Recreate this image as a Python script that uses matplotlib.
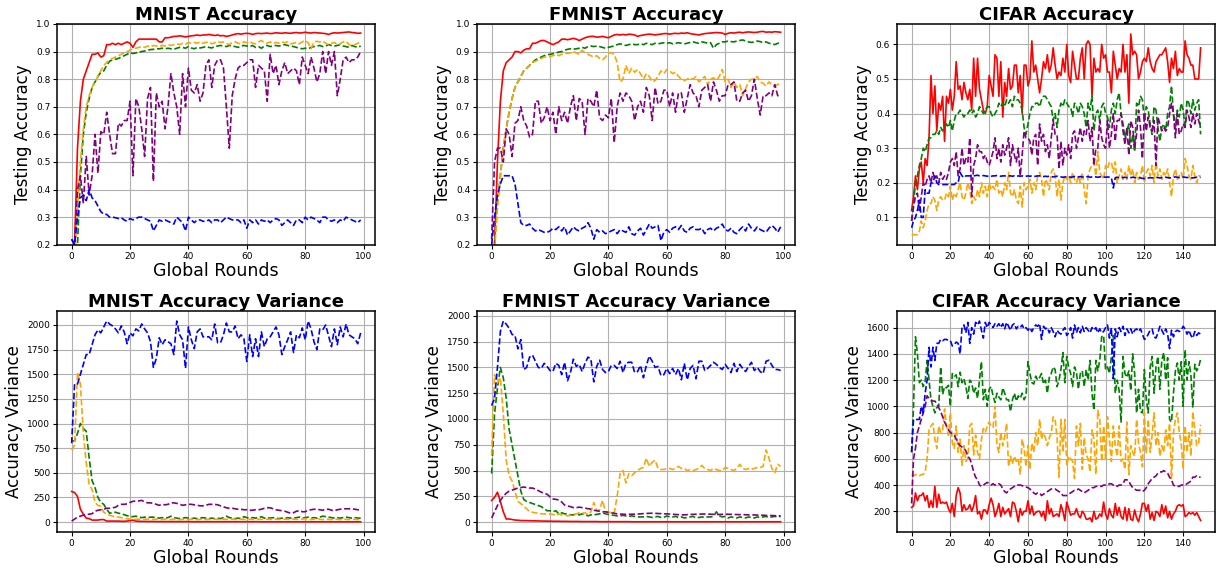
import matplotlib

matplotlib.use('Agg')
import numpy as np
import matplotlib.pyplot as plt
from matplotlib.ticker import MultipleLocator

# ---------------- MNIST accuracy ----------------
mnist_acc_red = [0.17, 0.20, 0.55, 0.72, 0.80, 0.83, 0.86, 0.89, 0.89, 0.895,
                 0.88, 0.885, 0.925, 0.925, 0.930, 0.925, 0.930, 0.925, 0.930, 0.935,
                 0.930, 0.915, 0.935, 0.945, 0.945, 0.945, 0.945, 0.945, 0.945, 0.945,
                 0.935, 0.935, 0.950, 0.950, 0.952, 0.955, 0.955, 0.957, 0.955, 0.953,
                 0.955, 0.957, 0.958, 0.960, 0.958, 0.960, 0.960, 0.962, 0.960, 0.958,
                 0.960, 0.957, 0.958, 0.955, 0.957, 0.960, 0.963, 0.965, 0.963, 0.965,
                 0.966, 0.965, 0.962, 0.965, 0.966, 0.965, 0.966, 0.967, 0.965, 0.966,
                 0.968, 0.967, 0.966, 0.968, 0.967, 0.966, 0.968, 0.969, 0.967, 0.968,
                 0.970, 0.968, 0.967, 0.969, 0.968, 0.967, 0.966, 0.965, 0.962, 0.966,
                 0.968, 0.967, 0.968, 0.969, 0.970, 0.971, 0.969, 0.968, 0.966, 0.967]
mnist_acc_orange = [0.10, 0.15, 0.33, 0.50, 0.62, 0.70, 0.74, 0.77, 0.79, 0.81,
                    0.83, 0.85, 0.86, 0.87, 0.875, 0.88, 0.885, 0.89, 0.895, 0.90,
                    0.905, 0.91, 0.912, 0.915, 0.918, 0.915, 0.920, 0.918, 0.922, 0.920,
                    0.918, 0.922, 0.920, 0.925, 0.922, 0.925, 0.928, 0.925, 0.930, 0.927,
                    0.932, 0.930, 0.933, 0.930, 0.935, 0.930, 0.933, 0.935, 0.928, 0.932,
                    0.936, 0.933, 0.935, 0.930, 0.925, 0.933, 0.935, 0.930, 0.928, 0.935,
                    0.932, 0.937, 0.930, 0.928, 0.935, 0.940, 0.932, 0.930, 0.935, 0.928,
                    0.933, 0.930, 0.935, 0.932, 0.935, 0.928, 0.930, 0.933, 0.928, 0.935,
                    0.940, 0.932, 0.910, 0.935, 0.937, 0.935, 0.938, 0.930, 0.925, 0.930,
                    0.933, 0.925, 0.928, 0.935, 0.938, 0.925, 0.920, 0.925, 0.930, 0.935]
mnist_acc_green = [0.08, 0.12, 0.20, 0.45, 0.60, 0.68, 0.73, 0.77, 0.79, 0.81,
                   0.825, 0.83, 0.85, 0.865, 0.870, 0.872, 0.875, 0.880, 0.885, 0.890,
                   0.895, 0.893, 0.895, 0.898, 0.900, 0.902, 0.905, 0.907, 0.908, 0.910,
                   0.910, 0.912, 0.910, 0.912, 0.910, 0.908, 0.912, 0.915, 0.915, 0.912,
                   0.918, 0.913, 0.910, 0.915, 0.913, 0.915, 0.918, 0.915, 0.913, 0.918,
                   0.920, 0.922, 0.920, 0.918, 0.922, 0.920, 0.918, 0.915, 0.920, 0.922,
                   0.920, 0.918, 0.922, 0.915, 0.918, 0.912, 0.920, 0.922, 0.918, 0.920,
                   0.922, 0.920, 0.923, 0.925, 0.922, 0.920, 0.918, 0.915, 0.912, 0.910,
                   0.912, 0.910, 0.915, 0.918, 0.920, 0.922, 0.918, 0.920, 0.925, 0.922,
                   0.920, 0.922, 0.925, 0.920, 0.918, 0.915, 0.922, 0.918, 0.915, 0.920]
mnist_acc_purple = [0.22, 0.20, 0.40, 0.45, 0.35, 0.52, 0.38, 0.45, 0.60, 0.46,
                    0.61, 0.60, 0.68, 0.60, 0.53, 0.53, 0.64, 0.63, 0.65, 0.65,
                    0.72, 0.45, 0.73, 0.70, 0.62, 0.52, 0.73, 0.77, 0.43, 0.75,
                    0.70, 0.72, 0.62, 0.70, 0.82, 0.75, 0.70, 0.60, 0.82, 0.70,
                    0.84, 0.76, 0.75, 0.78, 0.72, 0.75, 0.85, 0.87, 0.77, 0.85,
                    0.87, 0.87, 0.84, 0.70, 0.55, 0.74, 0.80, 0.84, 0.85, 0.85,
                    0.86, 0.87, 0.87, 0.77, 0.85, 0.84, 0.83, 0.72, 0.89, 0.82,
                    0.85, 0.78, 0.83, 0.86, 0.82, 0.83, 0.84, 0.83, 0.78, 0.88,
                    0.85, 0.82, 0.88, 0.84, 0.79, 0.82, 0.90, 0.82, 0.90, 0.85,
                    0.90, 0.74, 0.80, 0.87, 0.88, 0.86, 0.87, 0.87, 0.88, 0.90]
mnist_acc_blue = [0.22, 0.20, 0.30, 0.37, 0.38, 0.36, 0.40, 0.37, 0.36, 0.34,
                  0.32, 0.31, 0.31, 0.30, 0.30, 0.298, 0.295, 0.298, 0.29, 0.285,
                  0.295, 0.29, 0.295, 0.30, 0.30, 0.295, 0.29, 0.285, 0.25, 0.27,
                  0.29, 0.285, 0.29, 0.285, 0.28, 0.275, 0.30, 0.29, 0.28, 0.25,
                  0.30, 0.29, 0.28, 0.29, 0.29, 0.285, 0.285, 0.29, 0.28, 0.29,
                  0.29, 0.28, 0.29, 0.30, 0.295, 0.29, 0.29, 0.29, 0.28, 0.29,
                  0.26, 0.29, 0.28, 0.29, 0.275, 0.29, 0.285, 0.29, 0.28, 0.29,
                  0.295, 0.29, 0.27, 0.28, 0.29, 0.28, 0.27, 0.29, 0.29, 0.28,
                  0.30, 0.29, 0.30, 0.295, 0.29, 0.28, 0.30, 0.30, 0.29, 0.285,
                  0.29, 0.28, 0.29, 0.285, 0.30, 0.295, 0.29, 0.285, 0.28, 0.29]

# ---------------- FMNIST accuracy ----------------
fmnist_acc_red = [0.15, 0.20, 0.50, 0.72, 0.83, 0.86, 0.87, 0.88, 0.90, 0.90,
                  0.895, 0.905, 0.91, 0.91, 0.93, 0.93, 0.935, 0.94, 0.94, 0.935,
                  0.93, 0.925, 0.93, 0.935, 0.945, 0.945, 0.943, 0.945, 0.948, 0.945,
                  0.940, 0.945, 0.950, 0.953, 0.955, 0.955, 0.952, 0.953, 0.955, 0.952,
                  0.950, 0.955, 0.960, 0.962, 0.960, 0.962, 0.960, 0.963, 0.962, 0.960,
                  0.955, 0.958, 0.960, 0.962, 0.963, 0.962, 0.960, 0.962, 0.963, 0.965,
                  0.965, 0.963, 0.965, 0.966, 0.965, 0.967, 0.966, 0.968, 0.965, 0.963,
                  0.962, 0.960, 0.963, 0.965, 0.966, 0.967, 0.968, 0.969, 0.968, 0.967,
                  0.962, 0.966, 0.968, 0.967, 0.969, 0.970, 0.968, 0.970, 0.971, 0.970,
                  0.969, 0.970, 0.972, 0.973, 0.970, 0.971, 0.970, 0.972, 0.971, 0.970]
fmnist_acc_orange = [0.12, 0.18, 0.33, 0.45, 0.55, 0.62, 0.68, 0.73, 0.77, 0.79,
                     0.81, 0.83, 0.84, 0.85, 0.86, 0.865, 0.87, 0.875, 0.88, 0.88,
                     0.882, 0.885, 0.89, 0.885, 0.89, 0.895, 0.893, 0.895, 0.90, 0.895,
                     0.89, 0.905, 0.895, 0.89, 0.885, 0.88, 0.885, 0.875, 0.87, 0.88,
                     0.895, 0.895, 0.89, 0.86, 0.79, 0.80, 0.85, 0.82, 0.84, 0.825,
                     0.835, 0.82, 0.80, 0.82, 0.81, 0.79, 0.795, 0.81, 0.83, 0.82,
                     0.835, 0.83, 0.82, 0.825, 0.81, 0.80, 0.795, 0.80, 0.805, 0.80,
                     0.81, 0.79, 0.80, 0.81, 0.78, 0.80, 0.805, 0.795, 0.81, 0.835,
                     0.79, 0.80, 0.77, 0.79, 0.77, 0.78, 0.74, 0.765, 0.79, 0.80,
                     0.80, 0.81, 0.79, 0.785, 0.775, 0.79, 0.78, 0.775, 0.78, 0.79]
fmnist_acc_green = [0.12, 0.20, 0.35, 0.45, 0.55, 0.62, 0.68, 0.73, 0.77, 0.79,
                    0.81, 0.83, 0.84, 0.85, 0.86, 0.87, 0.875, 0.88, 0.885, 0.888,
                    0.89, 0.892, 0.895, 0.898, 0.900, 0.905, 0.908, 0.910, 0.908, 0.910,
                    0.912, 0.915, 0.912, 0.918, 0.920, 0.918, 0.920, 0.918, 0.915, 0.912,
                    0.915, 0.918, 0.920, 0.925, 0.928, 0.925, 0.922, 0.925, 0.928, 0.925,
                    0.925, 0.928, 0.925, 0.930, 0.928, 0.925, 0.930, 0.928, 0.930, 0.932,
                    0.930, 0.932, 0.928, 0.930, 0.932, 0.930, 0.928, 0.930, 0.933, 0.935,
                    0.932, 0.930, 0.935, 0.933, 0.930, 0.932, 0.912, 0.925, 0.930, 0.935,
                    0.935, 0.938, 0.936, 0.935, 0.938, 0.940, 0.942, 0.938, 0.935, 0.933,
                    0.935, 0.938, 0.936, 0.932, 0.935, 0.930, 0.928, 0.925, 0.930, 0.930]
fmnist_acc_purple = [0.22, 0.50, 0.55, 0.55, 0.50, 0.62, 0.60, 0.52, 0.64, 0.65,
                     0.70, 0.65, 0.63, 0.59, 0.60, 0.72, 0.72, 0.64, 0.66, 0.70,
                     0.65, 0.68, 0.60, 0.70, 0.65, 0.68, 0.64, 0.70, 0.74, 0.65,
                     0.73, 0.72, 0.60, 0.73, 0.72, 0.70, 0.76, 0.66, 0.65, 0.67,
                     0.66, 0.73, 0.57, 0.70, 0.75, 0.72, 0.75, 0.74, 0.72, 0.65,
                     0.70, 0.72, 0.68, 0.77, 0.74, 0.65, 0.77, 0.71, 0.72, 0.76,
                     0.76, 0.70, 0.75, 0.68, 0.75, 0.75, 0.68, 0.73, 0.78, 0.75,
                     0.74, 0.70, 0.76, 0.77, 0.78, 0.72, 0.79, 0.76, 0.72, 0.74,
                     0.74, 0.78, 0.78, 0.79, 0.72, 0.72, 0.75, 0.76, 0.72, 0.74,
                     0.80, 0.73, 0.67, 0.74, 0.74, 0.75, 0.74, 0.78, 0.74, 0.74]
fmnist_acc_blue = [0.20, 0.30, 0.38, 0.42, 0.45, 0.45, 0.45, 0.45, 0.42, 0.35,
                   0.28, 0.27, 0.27, 0.275, 0.26, 0.25, 0.255, 0.25, 0.245, 0.245,
                   0.25, 0.26, 0.255, 0.265, 0.25, 0.265, 0.235, 0.25, 0.265, 0.255,
                   0.25, 0.26, 0.265, 0.28, 0.26, 0.22, 0.255, 0.245, 0.25, 0.24,
                   0.245, 0.25, 0.255, 0.24, 0.255, 0.25, 0.245, 0.265, 0.24, 0.235,
                   0.25, 0.26, 0.235, 0.255, 0.275, 0.26, 0.265, 0.27, 0.215, 0.245,
                   0.255, 0.245, 0.26, 0.265, 0.255, 0.27, 0.25, 0.245, 0.26, 0.265,
                   0.255, 0.255, 0.26, 0.24, 0.255, 0.26, 0.25, 0.26, 0.265, 0.275,
                   0.255, 0.25, 0.26, 0.245, 0.24, 0.255, 0.265, 0.25, 0.275, 0.26,
                   0.25, 0.265, 0.255, 0.25, 0.245, 0.26, 0.27, 0.26, 0.245, 0.265]

# ---------------- CIFAR accuracy ----------------
cifar_acc_red = [0.12, 0.16, 0.22, 0.18, 0.24, 0.26, 0.20, 0.27, 0.25, 0.33,
                 0.51, 0.40, 0.48, 0.35, 0.43, 0.41, 0.45, 0.32, 0.45, 0.43,
                 0.47, 0.41, 0.45, 0.55, 0.47, 0.48, 0.44, 0.49, 0.46, 0.44,
                 0.47, 0.41, 0.56, 0.45, 0.56, 0.47, 0.44, 0.41, 0.40, 0.42,
                 0.51, 0.48, 0.45, 0.57, 0.56, 0.45, 0.55, 0.39, 0.49, 0.45,
                 0.53, 0.47, 0.48, 0.54, 0.54, 0.46, 0.51, 0.40, 0.54, 0.54,
                 0.48, 0.50, 0.61, 0.52, 0.54, 0.50, 0.46, 0.50, 0.55, 0.53,
                 0.57, 0.52, 0.54, 0.59, 0.54, 0.50, 0.52, 0.51, 0.56, 0.52,
                 0.60, 0.51, 0.49, 0.58, 0.54, 0.50, 0.50, 0.56, 0.59, 0.50,
                 0.60, 0.61, 0.60, 0.45, 0.56, 0.52, 0.53, 0.52, 0.60, 0.56,
                 0.57, 0.52, 0.52, 0.46, 0.58, 0.54, 0.50, 0.53, 0.52, 0.60,
                 0.52, 0.57, 0.43, 0.63, 0.57, 0.58, 0.57, 0.50, 0.52, 0.55,
                 0.56, 0.55, 0.59, 0.55, 0.53, 0.52, 0.55, 0.56, 0.57, 0.57,
                 0.58, 0.59, 0.55, 0.49, 0.56, 0.53, 0.58, 0.51, 0.53, 0.52,
                 0.52, 0.61, 0.57, 0.56, 0.54, 0.54, 0.50, 0.50, 0.50, 0.59]
cifar_acc_orange = [0.05, 0.05, 0.05, 0.05, 0.06, 0.09, 0.07, 0.09, 0.12, 0.14,
                    0.14, 0.16, 0.15, 0.12, 0.15, 0.16, 0.15, 0.15, 0.17, 0.16,
                    0.19, 0.15, 0.17, 0.16, 0.18, 0.20, 0.16, 0.15, 0.17, 0.20,
                    0.18, 0.14, 0.16, 0.15, 0.18, 0.16, 0.20, 0.17, 0.19, 0.16,
                    0.20, 0.18, 0.19, 0.18, 0.21, 0.17, 0.18, 0.16, 0.20, 0.18,
                    0.23, 0.17, 0.16, 0.18, 0.15, 0.14, 0.19, 0.13, 0.20, 0.18,
                    0.19, 0.21, 0.17, 0.20, 0.18, 0.22, 0.23, 0.21, 0.16, 0.21,
                    0.20, 0.18, 0.23, 0.24, 0.22, 0.16, 0.21, 0.15, 0.20, 0.22,
                    0.21, 0.22, 0.20, 0.23, 0.21, 0.20, 0.22, 0.20, 0.23, 0.18,
                    0.14, 0.22, 0.24, 0.25, 0.26, 0.22, 0.29, 0.23, 0.22, 0.21,
                    0.25, 0.24, 0.26, 0.26, 0.23, 0.26, 0.20, 0.22, 0.24, 0.21,
                    0.23, 0.21, 0.25, 0.22, 0.24, 0.20, 0.23, 0.21, 0.22, 0.25,
                    0.20, 0.23, 0.24, 0.22, 0.25, 0.20, 0.26, 0.22, 0.24, 0.21,
                    0.23, 0.22, 0.24, 0.20, 0.16, 0.22, 0.24, 0.21, 0.22, 0.23,
                    0.21, 0.27, 0.25, 0.22, 0.21, 0.25, 0.22, 0.20, 0.22, 0.22]
cifar_acc_green = [0.09, 0.14, 0.20, 0.22, 0.25, 0.27, 0.30, 0.29, 0.31, 0.33,
                   0.33, 0.34, 0.34, 0.35, 0.34, 0.36, 0.35, 0.36, 0.37, 0.36,
                   0.38, 0.35, 0.38, 0.40, 0.40, 0.41, 0.40, 0.39, 0.40, 0.40,
                   0.41, 0.40, 0.41, 0.39, 0.40, 0.42, 0.41, 0.40, 0.41, 0.42,
                   0.42, 0.40, 0.39, 0.40, 0.41, 0.43, 0.42, 0.43, 0.42, 0.44,
                   0.43, 0.44, 0.42, 0.45, 0.44, 0.44, 0.43, 0.41, 0.36, 0.34,
                   0.37, 0.40, 0.42, 0.42, 0.43, 0.43, 0.42, 0.44, 0.45, 0.45,
                   0.44, 0.43, 0.42, 0.38, 0.40, 0.36, 0.41, 0.43, 0.42, 0.44,
                   0.43, 0.42, 0.42, 0.39, 0.43, 0.42, 0.40, 0.43, 0.42, 0.40,
                   0.36, 0.43, 0.41, 0.45, 0.35, 0.40, 0.41, 0.38, 0.42, 0.43,
                   0.40, 0.39, 0.36, 0.41, 0.43, 0.40, 0.44, 0.46, 0.40, 0.37,
                   0.33, 0.35, 0.37, 0.30, 0.34, 0.29, 0.43, 0.42, 0.45, 0.44,
                   0.38, 0.42, 0.41, 0.37, 0.34, 0.42, 0.41, 0.36, 0.32, 0.36,
                   0.37, 0.35, 0.40, 0.42, 0.48, 0.40, 0.36, 0.41, 0.39, 0.43,
                   0.41, 0.36, 0.44, 0.43, 0.40, 0.44, 0.41, 0.43, 0.44, 0.34]
cifar_acc_purple = [0.09, 0.13, 0.16, 0.17, 0.12, 0.16, 0.20, 0.19, 0.21, 0.22,
                    0.20, 0.23, 0.21, 0.22, 0.20, 0.23, 0.21, 0.22, 0.21, 0.23,
                    0.26, 0.27, 0.25, 0.29, 0.22, 0.24, 0.30, 0.25, 0.27, 0.26,
                    0.33, 0.16, 0.25, 0.27, 0.31, 0.29, 0.29, 0.27, 0.28, 0.26,
                    0.25, 0.27, 0.29, 0.33, 0.27, 0.30, 0.26, 0.31, 0.28, 0.30,
                    0.33, 0.25, 0.31, 0.28, 0.26, 0.30, 0.22, 0.28, 0.35, 0.33,
                    0.33, 0.32, 0.28, 0.33, 0.34, 0.25, 0.37, 0.32, 0.34, 0.29,
                    0.31, 0.27, 0.33, 0.38, 0.34, 0.34, 0.24, 0.32, 0.25, 0.30,
                    0.28, 0.31, 0.27, 0.34, 0.35, 0.30, 0.33, 0.36, 0.32, 0.35,
                    0.34, 0.38, 0.32, 0.36, 0.25, 0.30, 0.30, 0.38, 0.33, 0.31,
                    0.30, 0.38, 0.30, 0.34, 0.40, 0.32, 0.38, 0.38, 0.40, 0.35,
                    0.31, 0.36, 0.28, 0.38, 0.36, 0.30, 0.34, 0.41, 0.36, 0.27,
                    0.40, 0.35, 0.39, 0.36, 0.35, 0.38, 0.25, 0.39, 0.37, 0.35,
                    0.36, 0.35, 0.36, 0.40, 0.43, 0.40, 0.33, 0.40, 0.34, 0.35,
                    0.37, 0.36, 0.41, 0.39, 0.36, 0.40, 0.37, 0.40, 0.38, 0.36]
cifar_acc_blue = [0.07, 0.09, 0.10, 0.12, 0.15, 0.10, 0.10, 0.18, 0.17, 0.17,
                  0.20, 0.20, 0.22, 0.20, 0.195, 0.195, 0.195, 0.195, 0.195, 0.195,
                  0.195, 0.195, 0.195, 0.20, 0.20, 0.23, 0.22, 0.215, 0.22, 0.22,
                  0.22, 0.22, 0.22, 0.221, 0.222, 0.22, 0.22, 0.221, 0.22, 0.219,
                  0.22, 0.219, 0.22, 0.22, 0.221, 0.22, 0.219, 0.22, 0.22, 0.219,
                  0.22, 0.22, 0.219, 0.22, 0.218, 0.22, 0.219, 0.22, 0.218, 0.219,
                  0.22, 0.219, 0.22, 0.218, 0.219, 0.22, 0.22, 0.219, 0.218, 0.219,
                  0.218, 0.219, 0.218, 0.217, 0.218, 0.219, 0.218, 0.217, 0.216, 0.217,
                  0.217, 0.218, 0.216, 0.217, 0.218, 0.216, 0.217, 0.218, 0.217, 0.216,
                  0.217, 0.218, 0.216, 0.217, 0.218, 0.217, 0.216, 0.217, 0.218, 0.217,
                  0.216, 0.217, 0.216, 0.215, 0.185, 0.215, 0.216, 0.215, 0.216, 0.215,
                  0.216, 0.215, 0.214, 0.215, 0.216, 0.215, 0.214, 0.215, 0.214, 0.213,
                  0.212, 0.213, 0.214, 0.215, 0.214, 0.215, 0.216, 0.215, 0.214, 0.215,
                  0.215, 0.216, 0.215, 0.214, 0.215, 0.216, 0.217, 0.216, 0.215, 0.216,
                  0.217, 0.216, 0.215, 0.216, 0.215, 0.214, 0.215, 0.216, 0.215, 0.216]

# ---------------- MNIST variance ----------------
mnist_var_red = [310, 300, 260, 130, 80, 40, 35, 20, 20, 20,
                 25, 25, 10, 10, 10, 10, 10, 8, 8, 10,
                 15, 20, 10, 8, 7, 7, 6, 6, 6, 5,
                 5, 5, 5, 5, 5, 5, 5, 5, 5, 5,
                 5, 4, 4, 4, 4, 4, 4, 4, 4, 4,
                 4, 4, 4, 4, 4, 4, 4, 4, 4, 4,
                 4, 4, 4, 4, 4, 3, 3, 3, 3, 3,
                 3, 3, 3, 3, 3, 3, 3, 3, 3, 3,
                 3, 3, 3, 3, 3, 3, 3, 3, 3, 3,
                 3, 3, 3, 3, 3, 3, 3, 3, 3, 3]
mnist_var_orange = [730, 780, 1520, 1400, 900, 600, 380, 330, 200, 170,
                    160, 100, 80, 70, 60, 55, 50, 45, 40, 35,
                    30, 30, 28, 30, 25, 28, 30, 25, 28, 30,
                    28, 25, 30, 28, 25, 30, 28, 25, 28, 30,
                    25, 28, 30, 25, 28, 30, 25, 28, 25, 30,
                    28, 25, 30, 28, 25, 30, 28, 25, 30, 28,
                    25, 30, 28, 25, 30, 28, 25, 30, 28, 25,
                    30, 28, 25, 30, 28, 25, 30, 28, 25, 30,
                    35, 28, 25, 30, 40, 28, 25, 30, 28, 25,
                    30, 28, 25, 30, 28, 25, 30, 28, 25, 28]
mnist_var_green = [830, 820, 900, 1000, 950, 920, 650, 420, 350, 250,
                   200, 180, 130, 90, 95, 100, 90, 85, 75, 65,
                   55, 55, 60, 50, 45, 50, 45, 50, 50, 45,
                   40, 45, 40, 45, 60, 45, 40, 35, 40, 45,
                   40, 35, 40, 35, 40, 45, 40, 35, 40, 35,
                   40, 35, 45, 60, 45, 40, 35, 40, 35, 55,
                   45, 40, 45, 40, 45, 55, 40, 45, 40, 45,
                   40, 35, 40, 35, 45, 40, 40, 45, 50, 40,
                   45, 50, 40, 45, 40, 50, 60, 55, 50, 45,
                   40, 45, 40, 45, 50, 45, 40, 45, 40, 40]
mnist_var_purple = [10, 30, 50, 60, 70, 75, 80, 85, 110, 120,
                    125, 130, 140, 140, 145, 150, 170, 180, 180, 185,
                    200, 210, 215, 215, 220, 205, 195, 195, 190, 180,
                    170, 180, 175, 180, 195, 195, 190, 180, 170, 175,
                    180, 180, 175, 170, 165, 165, 170, 180, 180, 180,
                    175, 165, 155, 145, 140, 140, 135, 130, 130, 125,
                    125, 120, 120, 125, 125, 130, 140, 145, 145, 135,
                    125, 120, 115, 110, 100, 90, 95, 110, 115, 105,
                    105, 120, 125, 130, 130, 125, 120, 130, 130, 120,
                    115, 125, 130, 135, 135, 135, 135, 130, 125, 125]
mnist_var_blue = [800, 1400, 1400, 1500, 1600, 1700, 1700, 1800, 1900, 1950,
                  1920, 1980, 2040, 2010, 1990, 1960, 1920, 1990, 1930, 1810,
                  1920, 1890, 1960, 1940, 2010, 1960, 1920, 1830, 1570, 1660,
                  1870, 1800, 1850, 1830, 1810, 1700, 2040, 1900, 1850, 1560,
                  1980, 1850, 1760, 1930, 1960, 1880, 1880, 1880, 1850, 2010,
                  1820, 1820, 1900, 2020, 1930, 1930, 1990, 1860, 1900, 1860,
                  1630, 1900, 1680, 1860, 1680, 1930, 1780, 1860, 1880, 1930,
                  1980, 1900, 1700, 1780, 1850, 1930, 1720, 1900, 1870, 1970,
                  1850, 2040, 1960, 1830, 1750, 1960, 1950, 2000, 1890, 1780,
                  1960, 1800, 1980, 1880, 2010, 1900, 1880, 1860, 1810, 1920]

# ---------------- FMNIST variance ----------------
fmnist_var_red = [210, 240, 290, 200, 100, 30, 30, 25, 20, 18,
                  15, 15, 14, 13, 12, 12, 11, 10, 10, 9,
                  9, 8, 8, 8, 7, 7, 7, 6, 6, 6,
                  6, 5, 5, 5, 5, 5, 5, 4, 4, 4,
                  4, 4, 4, 4, 4, 4, 4, 4, 3, 3,
                  3, 3, 3, 3, 3, 3, 3, 3, 3, 3,
                  3, 3, 3, 3, 3, 3, 3, 3, 3, 3,
                  3, 3, 3, 3, 3, 3, 3, 3, 3, 3,
                  3, 3, 3, 3, 3, 3, 3, 3, 3, 3,
                  3, 3, 3, 3, 3, 3, 3, 3, 3, 3]
fmnist_var_orange = [650, 1430, 1350, 1400, 1050, 600, 450, 400, 300, 200,
                     180, 150, 130, 100, 95, 90, 85, 80, 80, 75,
                     80, 75, 60, 80, 70, 70, 60, 65, 70, 80,
                     90, 85, 90, 70, 100, 190, 110, 120, 210, 100,
                     90, 100, 90, 250, 470, 500, 380, 470, 450, 480,
                     500, 520, 530, 620, 540, 580, 600, 520, 510, 510,
                     520, 520, 510, 520, 540, 520, 520, 500, 510, 500,
                     510, 520, 550, 520, 510, 500, 520, 510, 500, 500,
                     530, 520, 510, 500, 520, 560, 520, 510, 520, 510,
                     520, 530, 530, 540, 700, 620, 520, 480, 560, 540]
fmnist_var_green = [470, 1050, 1300, 1500, 1400, 1200, 900, 750, 600, 450,
                    300, 220, 200, 190, 180, 170, 160, 150, 130, 110,
                    110, 100, 110, 80, 90, 80, 80, 70, 70, 80,
                    70, 80, 75, 60, 70, 70, 75, 80, 90, 80,
                    75, 70, 65, 60, 60, 65, 60, 55, 60, 55,
                    50, 50, 50, 55, 50, 45, 50, 55, 45, 45,
                    60, 50, 50, 55, 45, 50, 40, 45, 50, 55,
                    40, 45, 50, 45, 50, 50, 55, 100, 60, 50,
                    55, 40, 50, 45, 40, 50, 45, 40, 50, 45,
                    40, 50, 45, 50, 55, 45, 50, 55, 50, 55]
fmnist_var_purple = [40, 100, 160, 210, 250, 280, 300, 310, 320, 330,
                     335, 340, 335, 330, 330, 320, 305, 290, 280, 270,
                     245, 225, 220, 215, 195, 165, 155, 150, 140, 140,
                     145, 140, 135, 130, 125, 115, 110, 105, 100, 100,
                     95, 90, 85, 80, 78, 76, 75, 75, 76, 77,
                     78, 80, 82, 84, 85, 86, 85, 83, 82, 80,
                     80, 78, 76, 74, 72, 70, 70, 72, 74, 75,
                     76, 77, 78, 78, 77, 76, 75, 74, 74, 75,
                     76, 76, 75, 74, 73, 72, 72, 71, 70, 70,
                     69, 68, 67, 66, 65, 64, 63, 62, 61, 60]
fmnist_var_blue = [1130, 1200, 1500, 1850, 1950, 1920, 1880, 1820, 1810, 1680,
                   1770, 1480, 1500, 1600, 1620, 1560, 1500, 1490, 1540, 1510,
                   1470, 1460, 1540, 1520, 1430, 1550, 1370, 1450, 1580, 1510,
                   1530, 1460, 1540, 1600, 1580, 1360, 1510, 1570, 1480, 1450,
                   1460, 1520, 1520, 1490, 1560, 1450, 1540, 1550, 1550, 1450,
                   1460, 1520, 1400, 1520, 1610, 1560, 1500, 1510, 1420, 1430,
                   1490, 1440, 1490, 1430, 1490, 1380, 1540, 1380, 1490, 1520,
                   1390, 1560, 1560, 1470, 1490, 1520, 1550, 1530, 1500, 1480,
                   1530, 1490, 1450, 1540, 1460, 1530, 1490, 1460, 1510, 1550,
                   1470, 1500, 1460, 1440, 1560, 1570, 1520, 1480, 1480, 1470]

# ---------------- CIFAR variance ----------------
cifar_var_red = [230, 240, 340, 280, 320, 320, 340, 280, 320, 230,
                 280, 230, 390, 230, 330, 260, 270, 260, 270, 220,
                 190, 260, 160, 320, 380, 340, 200, 250, 210, 220,
                 250, 200, 240, 320, 180, 200, 140, 210, 210, 180,
                 250, 300, 250, 160, 200, 260, 160, 230, 180, 200,
                 220, 160, 270, 260, 200, 120, 220, 170, 200, 200,
                 280, 180, 240, 170, 190, 200, 200, 160, 200, 130,
                 280, 180, 220, 160, 170, 180, 160, 250, 200, 130,
                 270, 220, 170, 180, 180, 220, 170, 150, 200, 180,
                 140, 140, 150, 120, 200, 140, 150, 180, 160, 270,
                 180, 140, 220, 170, 150, 260, 170, 230, 160, 140,
                 230, 130, 220, 140, 130, 210, 150, 120, 180, 260,
                 260, 200, 250, 140, 190, 130, 200, 190, 160, 250,
                 180, 240, 150, 200, 140, 180, 200, 240, 250, 240,
                 250, 160, 170, 190, 180, 190, 170, 190, 160, 130]
cifar_var_orange = [480, 470, 480, 470, 470, 480, 480, 500, 600, 820,
                    850, 870, 750, 680, 850, 800, 820, 980, 850, 780,
                    950, 720, 680, 850, 650, 750, 550, 700, 580, 600,
                    850, 870, 630, 780, 650, 600, 750, 830, 800, 850,
                    880, 850, 840, 1000, 700, 650, 800, 700, 770, 870,
                    540, 620, 560, 620, 580, 600, 480, 750, 680, 540,
                    700, 520, 720, 650, 800, 700, 900, 750, 800, 760,
                    700, 760, 800, 920, 900, 760, 460, 900, 650, 900,
                    550, 620, 600, 580, 450, 850, 700, 870, 520, 760,
                    630, 600, 500, 820, 750, 480, 970, 900, 580, 850,
                    600, 920, 750, 580, 850, 700, 620, 850, 580, 600,
                    520, 880, 480, 700, 650, 620, 900, 720, 650, 540,
                    950, 640, 900, 650, 780, 950, 700, 800, 620, 700,
                    650, 820, 700, 870, 450, 800, 900, 950, 800, 720,
                    520, 850, 650, 800, 620, 960, 820, 700, 720, 860]
cifar_var_green = [650, 1000, 1530, 1400, 1180, 1200, 1150, 1190, 1350, 1200,
                   1050, 1000, 950, 990, 1000, 1300, 1090, 1150, 1140, 1160,
                   1000, 1250, 1230, 1240, 1150, 1260, 1180, 1210, 1150, 1060,
                   1200, 1180, 1100, 1140, 1060, 1200, 1340, 1050, 1130, 1000,
                   1130, 1150, 1080, 1030, 1100, 1070, 1050, 1140, 1100, 1050,
                   1050, 960, 1050, 1100, 1040, 1080, 1060, 1100, 1050, 1080,
                   1340, 1250, 1180, 1170, 1230, 1200, 1220, 1250, 1170, 1200,
                   1100, 1220, 1250, 1300, 1280, 1150, 1200, 1280, 1410, 1180,
                   1380, 1300, 1250, 1150, 1300, 1260, 1130, 1250, 1270, 1150,
                   1280, 1200, 1350, 1100, 970, 1350, 1270, 1350, 1530, 1540,
                   1280, 1300, 1250, 1380, 1540, 1100, 1200, 1120, 880, 1380,
                   1250, 1220, 1270, 1120, 1400, 1250, 950, 1130, 960, 950,
                   1280, 1050, 950, 1300, 1380, 1100, 1300, 1380, 1130, 1350,
                   1410, 1200, 1370, 900, 880, 1100, 1270, 1330, 1200, 1340,
                   1000, 1430, 1200, 1340, 1240, 990, 1320, 1270, 1300, 1360]
cifar_var_purple = [260, 600, 680, 800, 850, 900, 950, 1000, 1080, 1060,
                    1050, 1040, 1040, 1020, 990, 960, 920, 880, 850, 820,
                    800, 790, 780, 750, 720, 700, 690, 680, 660, 620,
                    600, 560, 500, 460, 440, 400, 390, 400, 410, 420,
                    410, 400, 410, 400, 400, 410, 400, 370, 350, 340,
                    360, 370, 380, 390, 400, 400, 400, 395, 390, 385,
                    380, 370, 355, 340, 330, 340, 340, 320, 330, 340,
                    350, 360, 370, 370, 370, 360, 350, 340, 320, 320,
                    320, 330, 340, 350, 360, 360, 370, 360, 350, 340,
                    350, 360, 370, 380, 380, 390, 390, 390, 390, 400,
                    400, 400, 410, 410, 400, 400, 390, 400, 400, 410,
                    440, 440, 430, 400, 380, 370, 360, 360, 360, 350,
                    360, 380, 410, 430, 450, 460, 470, 490, 500, 500,
                    510, 500, 490, 460, 440, 400, 390, 390, 390, 400,
                    400, 400, 410, 420, 430, 460, 460, 470, 460, 460]
cifar_var_blue = [650, 900, 900, 900, 900, 1000, 950, 1100, 1200, 1450,
                  1300, 1450, 1350, 1480, 1480, 1510, 1500, 1510, 1510, 1500,
                  1500, 1460, 1470, 1490, 1480, 1400, 1600, 1620, 1560, 1640,
                  1480, 1600, 1550, 1640, 1620, 1650, 1580, 1520, 1640, 1600,
                  1640, 1620, 1600, 1630, 1610, 1630, 1600, 1630, 1590, 1640,
                  1610, 1580, 1620, 1630, 1590, 1610, 1600, 1620, 1590, 1600,
                  1580, 1600, 1570, 1600, 1620, 1610, 1630, 1510, 1610, 1590,
                  1600, 1560, 1600, 1570, 1530, 1580, 1560, 1550, 1580, 1600,
                  1540, 1560, 1600, 1520, 1620, 1560, 1600, 1560, 1610, 1570,
                  1600, 1580, 1560, 1600, 1580, 1600, 1560, 1590, 1560, 1570,
                  1600, 1620, 1520, 1600, 1210, 1590, 1530, 1600, 1570, 1610,
                  1540, 1590, 1560, 1590, 1550, 1580, 1590, 1570, 1590, 1550,
                  1510, 1520, 1550, 1580, 1590, 1530, 1520, 1560, 1610, 1580,
                  1550, 1590, 1550, 1440, 1580, 1530, 1570, 1580, 1570, 1580,
                  1610, 1590, 1550, 1580, 1540, 1520, 1570, 1540, 1560, 1550]

COLORS = ['red', 'green', 'orange', 'purple', 'blue']
STYLES = ['-', '--', '--', '--', '--']

panels = [
    ('MNIST Accuracy', 'Testing Accuracy',
     [mnist_acc_red, mnist_acc_green, mnist_acc_orange, mnist_acc_purple, mnist_acc_blue]),
    ('FMNIST Accuracy', 'Testing Accuracy',
     [fmnist_acc_red, fmnist_acc_green, fmnist_acc_orange, fmnist_acc_purple, fmnist_acc_blue]),
    ('CIFAR Accuracy', 'Testing Accuracy',
     [cifar_acc_red, cifar_acc_green, cifar_acc_orange, cifar_acc_purple, cifar_acc_blue]),
    ('MNIST Accuracy Variance', 'Accuracy Variance',
     [mnist_var_red, mnist_var_green, mnist_var_orange, mnist_var_purple, mnist_var_blue]),
    ('FMNIST Accuracy Variance', 'Accuracy Variance',
     [fmnist_var_red, fmnist_var_green, fmnist_var_orange, fmnist_var_purple, fmnist_var_blue]),
    ('CIFAR Accuracy Variance', 'Accuracy Variance',
     [cifar_var_red, cifar_var_green, cifar_var_orange, cifar_var_purple, cifar_var_blue]),
]

fig, axes = plt.subplots(2, 3, figsize=(12.17, 5.70), dpi=100)
fig.subplots_adjust(left=0.047, right=0.9984, top=0.958, bottom=0.067,
                    wspace=0.321, hspace=0.30)

for ax, (title, ylabel, series) in zip(axes.flat, panels):
    for ind, ys in enumerate(series):
        ax.plot(np.arange(len(ys)), ys, STYLES[ind], color=COLORS[ind], linewidth=1.2)
    ax.set_title(title, fontsize=13, fontweight='bold', pad=3)
    ax.set_xlabel('Global Rounds', fontsize=12.5, labelpad=1)
    ax.set_ylabel(ylabel, fontsize=12, labelpad=3)
    ax.tick_params(labelsize=6.5, length=3, pad=2)
    ax.grid(True, color='#b0b0b0', linewidth=0.8)
    ax.xaxis.set_major_locator(MultipleLocator(20))
    for sp in ax.spines.values():
        sp.set_linewidth(1.1)

for ax in axes[0, :2]:
    ax.set_ylim(0.2, 1.0)
    ax.yaxis.set_major_locator(MultipleLocator(0.1))
axes[0, 2].yaxis.set_major_locator(MultipleLocator(0.1))
for ax in axes[1, :2]:
    ax.yaxis.set_major_locator(MultipleLocator(250))
axes[1, 2].yaxis.set_major_locator(MultipleLocator(200))

plt.savefig('out.png', dpi=100)
